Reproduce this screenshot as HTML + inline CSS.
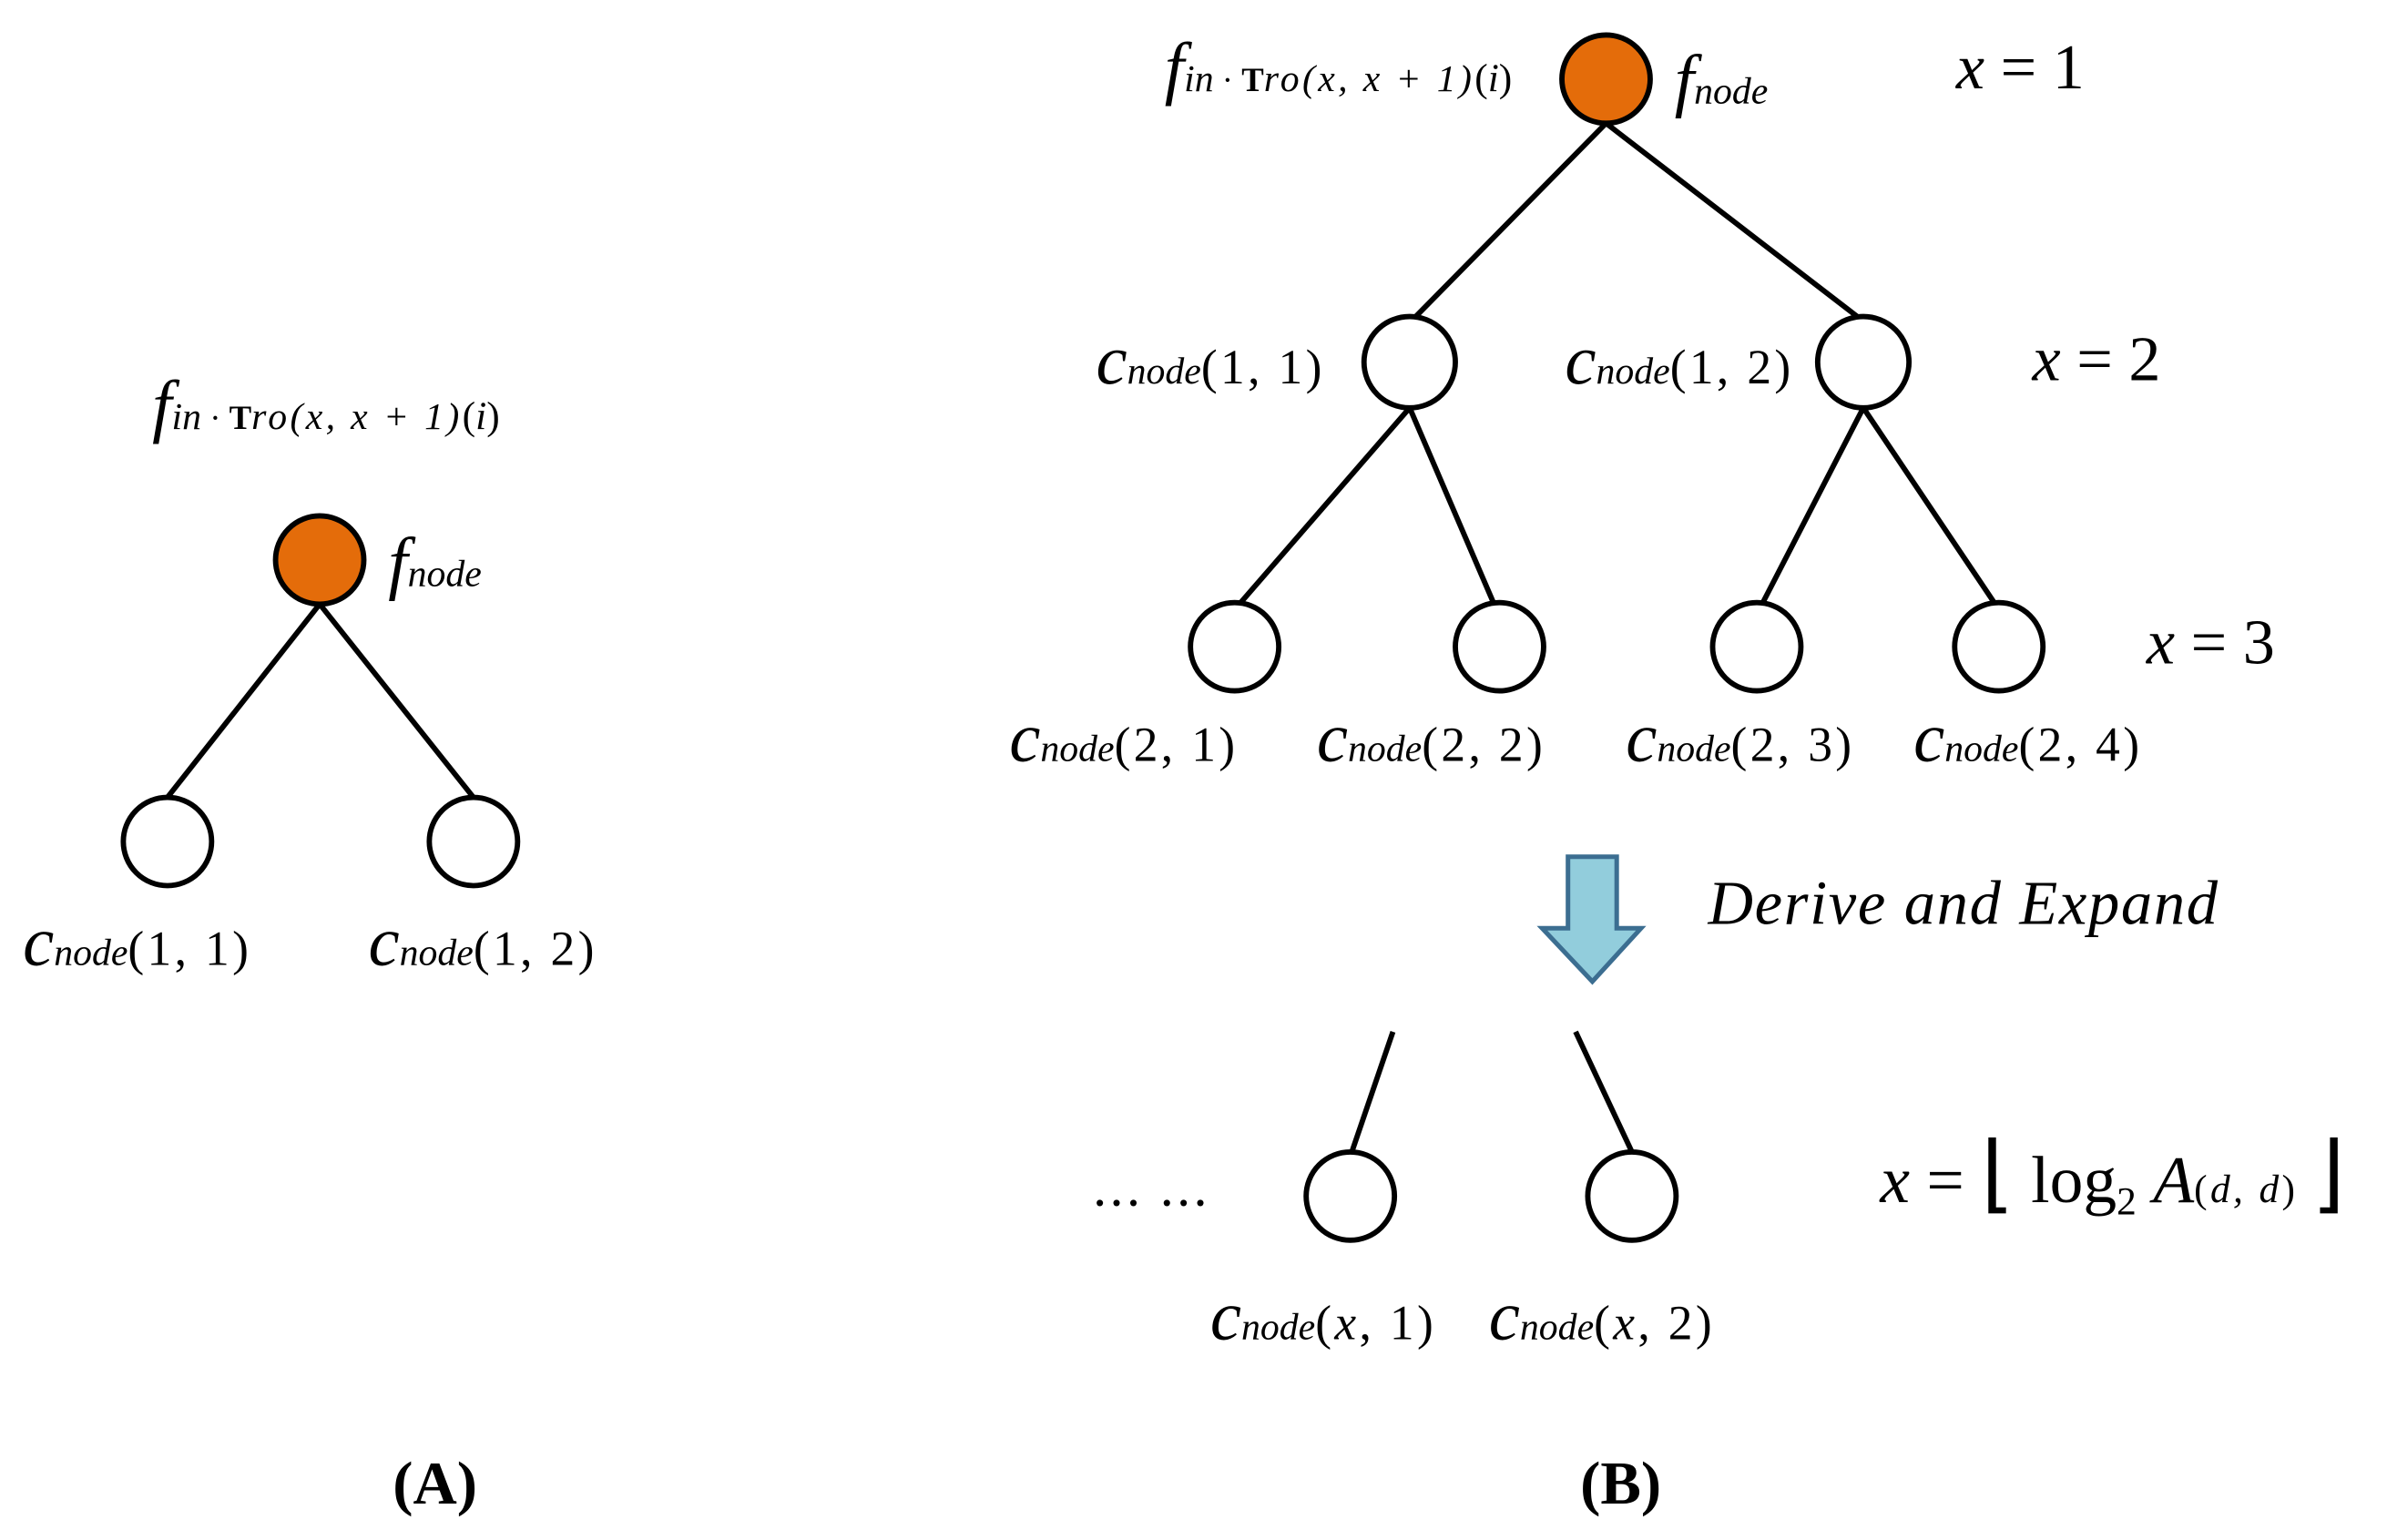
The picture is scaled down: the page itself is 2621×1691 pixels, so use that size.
<!DOCTYPE html>
<html><head><meta charset="utf-8"><style>
html,body{margin:0;padding:0;background:#fff;}
svg{display:block;}
text{font-family:"Liberation Serif",serif;fill:#000;}
.c{font-style:italic;font-size:46px;}
.n{font-style:italic;font-size:25px;}
.p{font-size:32px;letter-spacing:2px;}
.i{font-style:italic;}
</style></head><body>
<svg width="2621" height="1691" viewBox="0 0 1568 1012" preserveAspectRatio="none" xmlns="http://www.w3.org/2000/svg">
<g stroke="#000" stroke-width="3.5" fill="none">
<line x1="210" y1="397" x2="110" y2="524"/>
<line x1="210" y1="397" x2="311" y2="524"/>
<circle cx="110" cy="553" r="29" fill="#fff"/>
<circle cx="311" cy="553" r="29" fill="#fff"/>
<circle cx="210" cy="368" r="29" fill="#E46C0A"/>
<line x1="1055" y1="81" x2="930" y2="208"/>
<line x1="1055" y1="81" x2="1220" y2="208"/>
<line x1="926" y1="268" x2="815" y2="396"/>
<line x1="926" y1="268" x2="981" y2="396"/>
<line x1="1224" y1="268" x2="1158" y2="396"/>
<line x1="1224" y1="268" x2="1310" y2="396"/>
<circle cx="1055" cy="52" r="29" fill="#E46C0A"/>
<circle cx="926" cy="238" r="30" fill="#fff"/>
<circle cx="1224" cy="238" r="30" fill="#fff"/>
<circle cx="811" cy="425" r="29" fill="#fff"/>
<circle cx="985" cy="425" r="29" fill="#fff"/>
<circle cx="1154" cy="425" r="29" fill="#fff"/>
<circle cx="1313" cy="425" r="29" fill="#fff"/>
<line x1="915" y1="678" x2="888" y2="757"/>
<line x1="1035" y1="678" x2="1072" y2="757"/>
<circle cx="887" cy="786" r="29" fill="#fff"/>
<circle cx="1072" cy="786" r="29" fill="#fff"/>
</g>
<path d="M1030 563 H1062 V610 H1078 L1046 645 L1013 610 H1030 Z" fill="#92CDDC" stroke="#3C6E91" stroke-width="3"/>

<text x="100" y="282"><tspan class="c">f</tspan><tspan class="n">in</tspan><tspan font-size="22"> · </tspan><tspan font-size="22" font-weight="bold">T</tspan><tspan class="n" font-size="18" letter-spacing="2">ro(x, x + 1)</tspan><tspan font-size="26">(</tspan><tspan font-size="26" class="i">i</tspan><tspan font-size="26">)</tspan></text>
<text x="255" y="385"><tspan class="c">f</tspan><tspan class="n" font-size="28">node</tspan></text>
<text x="15" y="634"><tspan class="c">c</tspan><tspan class="n">node</tspan><tspan class="p">(1, 1)</tspan></text>
<text x="242" y="634"><tspan class="c">c</tspan><tspan class="n">node</tspan><tspan class="p">(1, 2)</tspan></text>
<text x="258" y="988" font-size="40" font-weight="bold">(A)</text>

<text x="765" y="60"><tspan class="c">f</tspan><tspan class="n">in</tspan><tspan font-size="22"> · </tspan><tspan font-size="22" font-weight="bold">T</tspan><tspan class="n" font-size="18" letter-spacing="2">ro(x, x + 1)</tspan><tspan font-size="26">(</tspan><tspan font-size="26" class="i">i</tspan><tspan font-size="26">)</tspan></text>
<text x="1100" y="68"><tspan class="c">f</tspan><tspan class="n" font-size="28">node</tspan></text>
<text x="1285" y="58" font-size="42"><tspan class="i">x</tspan> = 1</text>
<text x="720" y="252"><tspan class="c">c</tspan><tspan class="n">node</tspan><tspan class="p">(1, 1)</tspan></text>
<text x="1028" y="252"><tspan class="c">c</tspan><tspan class="n">node</tspan><tspan class="p">(1, 2)</tspan></text>
<text x="1335" y="250" font-size="42"><tspan class="i">x</tspan> = 2</text>
<text x="663" y="500"><tspan class="c">c</tspan><tspan class="n">node</tspan><tspan class="p">(2, 1)</tspan></text>
<text x="865" y="500"><tspan class="c">c</tspan><tspan class="n">node</tspan><tspan class="p">(2, 2)</tspan></text>
<text x="1068" y="500"><tspan class="c">c</tspan><tspan class="n">node</tspan><tspan class="p">(2, 3)</tspan></text>
<text x="1257" y="500"><tspan class="c">c</tspan><tspan class="n">node</tspan><tspan class="p">(2, 4)</tspan></text>
<text x="1410" y="436" font-size="42"><tspan class="i">x</tspan> = 3</text>
<text x="1122" y="607" font-size="41" class="i" letter-spacing="1">Derive and Expand</text>
<text x="718" y="792" font-size="36" letter-spacing="2">... ...</text>
<text x="795" y="880"><tspan class="c">c</tspan><tspan class="n">node</tspan><tspan class="p">(</tspan><tspan class="p i">x</tspan><tspan class="p">, 1)</tspan></text>
<text x="978" y="880"><tspan class="c">c</tspan><tspan class="n">node</tspan><tspan class="p">(</tspan><tspan class="p i">x</tspan><tspan class="p">, 2)</tspan></text>
<text x="1235" y="790" font-size="44"><tspan class="i">x</tspan> = <tspan font-size="56">⌊</tspan> log<tspan font-size="26" dy="8">2</tspan><tspan dy="-8"> </tspan><tspan class="i">A</tspan><tspan font-size="26" letter-spacing="2">(</tspan><tspan font-size="26" class="i" letter-spacing="2">d, d</tspan><tspan font-size="26">)</tspan>  <tspan font-size="56">⌋</tspan></text>
<text x="1038" y="988" font-size="40" font-weight="bold">(B)</text>
</svg>
</body></html>
